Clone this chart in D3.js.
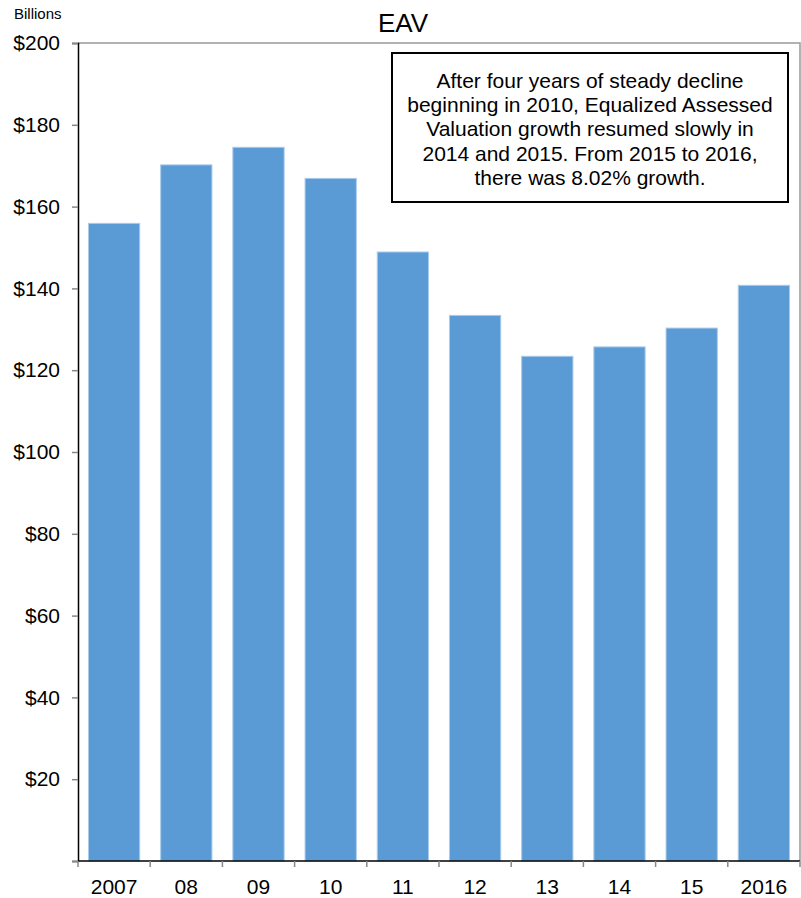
<!DOCTYPE html>
<html>
<head>
<meta charset="utf-8">
<script src="https://cdn.jsdelivr.net/npm/d3@7"></script>
<style>
  html, body { margin: 0; padding: 0; background: #fff; }
  svg { display: block; font-family: "Liberation Sans", Arial, sans-serif; }
</style>
</head>
<body>
<div id="chart"></div>
<script>
// Equalized Assessed Valuation, in billions of dollars
const years = ["2007", "08", "09", "10", "11", "12", "13", "14", "15", "2016"];
const eav = [155.9, 170.2, 174.5, 166.9, 148.9, 133.4, 123.4, 125.7, 130.3, 140.75];
const yTicks = [20, 40, 60, 80, 100, 120, 140, 160, 180, 200];
const noteLines = [
  "After four years of steady decline",
  "beginning in 2010, Equalized Assessed",
  "Valuation growth resumed slowly in",
  "2014 and 2015. From 2015 to 2016,",
  "there was 8.02% growth."
];

const W = 801, H = 898;
const m = { left: 78, right: 1, top: 43, bottom: 37 };
const FONT = "Liberation Sans, Arial, sans-serif";

const svg = d3.select("#chart").append("svg")
  .attr("width", W).attr("height", H);

const x = d3.scaleBand()
  .domain(years)
  .range([m.left, W - m.right])
  .paddingInner(0.29)
  .paddingOuter(0.145);

const y = d3.scaleLinear()
  .domain([0, 200])
  .range([H - m.bottom, m.top]);

// plot frame (top and right edges)
svg.append("path")
  .attr("d", `M${m.left},${m.top}H${W - m.right}V${H - m.bottom}`)
  .attr("fill", "none")
  .attr("stroke", "#999")
  .attr("stroke-width", 1.5);

// bars
svg.append("g").selectAll("rect")
  .data(years.map((yr, i) => ({ yr, v: eav[i] })))
  .join("rect")
  .attr("x", d => x(d.yr))
  .attr("y", d => y(d.v))
  .attr("width", x.bandwidth())
  .attr("height", d => y(0) - y(d.v))
  .attr("fill", "#5B9BD5")
  .attr("stroke", "#A9CBEB")
  .attr("stroke-width", 1);

// y axis
const yAxis = svg.append("g")
  .attr("transform", `translate(${m.left},0)`)
  .call(d3.axisLeft(y).tickValues([0].concat(yTicks)).tickSize(6)
    .tickFormat(d => d === 0 ? "" : "$" + d));
yAxis.select(".domain").attr("stroke", "#000").attr("stroke-width", 1.5);
yAxis.selectAll(".tick line").attr("stroke", "#888").attr("stroke-width", 1.5);
yAxis.selectAll(".tick text")
  .attr("font-size", 21).attr("fill", "#000").attr("x", -18)
  .attr("font-family", FONT);

// x axis with ticks on band boundaries
const xAxisG = svg.append("g")
  .attr("transform", `translate(0,${y(0)})`);
xAxisG.append("line")
  .attr("x1", m.left).attr("x2", W - m.right)
  .attr("stroke", "#000").attr("stroke-width", 1.5);
const step = x.step();
const bounds = d3.range(years.length + 1).map(i => m.left + i * step);
xAxisG.selectAll("line.tk").data(bounds).join("line")
  .attr("class", "tk")
  .attr("x1", d => d).attr("x2", d => d)
  .attr("y1", 0).attr("y2", 6)
  .attr("stroke", "#888").attr("stroke-width", 1.5);
xAxisG.selectAll("text").data(years).join("text")
  .attr("x", d => x(d) + x.bandwidth() / 2)
  .attr("y", 33)
  .attr("text-anchor", "middle")
  .attr("font-size", 21)
  .attr("fill", "#000")
  .text(d => d);

// unit label and title
svg.append("text")
  .attr("x", 14).attr("y", 19)
  .attr("font-size", 15).attr("fill", "#000")
  .text("Billions");
svg.append("text")
  .attr("x", 403).attr("y", 32)
  .attr("text-anchor", "middle")
  .attr("font-size", 26).attr("fill", "#000")
  .text("EAV");

// annotation box
const box = { x: 392, y: 53, w: 396, h: 149 };
svg.append("rect")
  .attr("x", box.x).attr("y", box.y)
  .attr("width", box.w).attr("height", box.h)
  .attr("fill", "#fff").attr("stroke", "#000").attr("stroke-width", 2);
svg.append("g").selectAll("text")
  .data(noteLines).join("text")
  .attr("x", box.x + box.w / 2)
  .attr("y", (d, i) => 88 + i * 24.2)
  .attr("text-anchor", "middle")
  .attr("font-size", 21).attr("fill", "#000")
  .text(d => d);
</script>
</body>
</html>
